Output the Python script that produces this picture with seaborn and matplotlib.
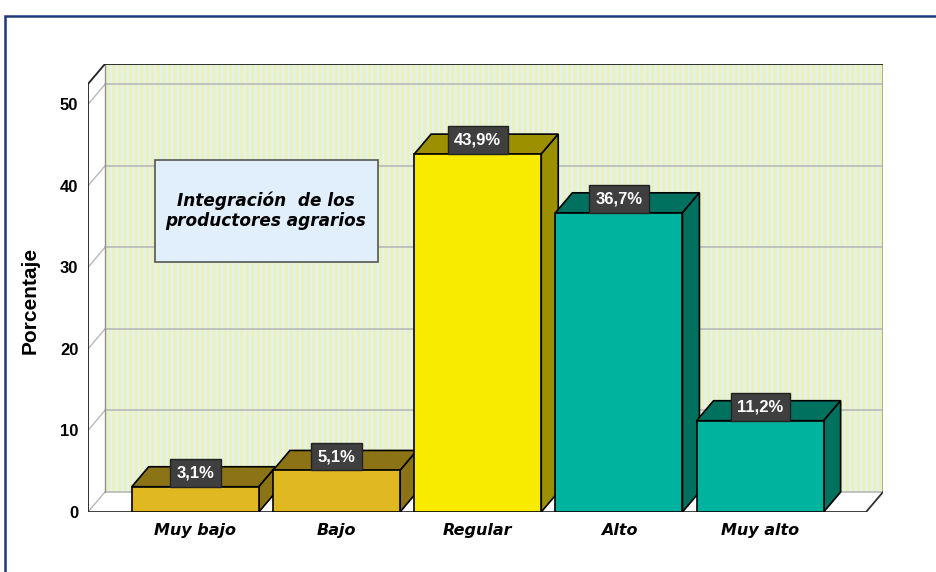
import pandas as pd
import seaborn as sns
from matplotlib import pyplot as plt
from matplotlib.patches import Polygon, Rectangle


categorias = ["Muy bajo", "Bajo", "Regular", "Alto", "Muy alto"]
porcentajes = [3.1, 5.1, 43.9, 36.7, 11.2]
etiquetas = ["3,1%", "5,1%", "43,9%", "36,7%", "11,2%"]
colores_frente = ["#DFB822", "#DFB822", "#F9EB00", "#00B39F", "#00B39F"]
colores_lado = ["#8C7416", "#8C7416", "#9C9000", "#00705F", "#00705F"]
yticks = [0, 10, 20, 30, 40, 50]

df = pd.DataFrame(data={"Nivel": categorias, "Porcentaje": porcentajes})

sns.set_style("white")
plt.rcParams["font.family"] = ["DejaVu Sans"]
plt.rcParams["text.color"] = "black"
plt.rcParams["xtick.color"] = "black"
plt.rcParams["ytick.color"] = "black"
plt.rcParams["axes.labelcolor"] = "black"
plt.rcParams["hatch.linewidth"] = 2.2
narrow = ["Liberation Sans Narrow", "Liberation Sans", "DejaVu Sans"]

fig = plt.figure(figsize=(9.37, 5.72), dpi=100)
ax = fig.add_axes([88/937, 60/572, 795/937, 448/572])

# profundidad del efecto 3D (en unidades de datos)
dx, dy = 0.12, 2.45
x0, x1 = -0.76, 4.75
ytop = 52.5

sns.barplot(data=df, x="Nivel", y="Porcentaje", hue="Nivel", palette=colores_frente,
            saturation=1, width=0.9, edgecolor="black", linewidth=1.2, legend=False,
            ax=ax, zorder=3)

# paredes y suelo
ax.add_patch(Polygon([(x0+dx, dy), (x1+dx, dy), (x1+dx, ytop+dy), (x0+dx, ytop+dy)],
                     facecolor="#E4F1F4", edgecolor="#ECF2B6", hatch="|||", lw=0, zorder=0.5))
ax.add_patch(Polygon([(x0, 0), (x0+dx, dy), (x0+dx, ytop+dy), (x0, ytop)],
                     facecolor="white", lw=0, zorder=0.6))
ax.add_patch(Polygon([(x0, 0), (x1, 0), (x1+dx, dy), (x0+dx, dy)],
                     facecolor="white", lw=0, zorder=0.6))
for v in yticks:
    ax.plot([x0+dx, x1+dx], [v+dy, v+dy], color="#B8B8B8", lw=1.2, zorder=1)
    ax.plot([x0, x0+dx], [v, v+dy], color="#B8B8B8", lw=1.0, zorder=1)
ax.plot([x0+dx, x0+dx], [dy, ytop+dy], color="#909090", lw=1.0, zorder=1)
ax.plot([x1+dx, x1+dx], [dy, ytop+dy], color="#A0A0A0", lw=1.2, zorder=1)
ax.plot([x0, x0, x0+dx, x1+dx], [0, ytop, ytop+dy, ytop+dy], color="#202020", lw=1.3, zorder=1.2)
ax.plot([x0, x1, x1+dx], [0, 0, dy], color="#303030", lw=1.3, zorder=1.2)

# caras superior y lateral de cada barra
for container in ax.containers:
    for bar in container:
        x, w, h = bar.get_x(), bar.get_width(), bar.get_height()
        i = int(round(x + w/2))
        ax.add_patch(Polygon([(x, h), (x+w, h), (x+w+dx, h+dy), (x+dx, h+dy)],
                             facecolor=colores_lado[i], edgecolor="black", lw=1.2, zorder=2.8))
        ax.add_patch(Polygon([(x+w, 0), (x+w+dx, dy), (x+w+dx, h+dy), (x+w, h)],
                             facecolor=colores_lado[i], edgecolor="black", lw=1.2, zorder=2.8))
        ax.annotate(etiquetas[i], xy=(x + w/2, h), xytext=(0, 4.6), textcoords="offset points",
                    ha="center", va="bottom", color="white", fontsize=12, fontweight="bold",
                    family=narrow, zorder=5,
                    bbox=dict(boxstyle="square,pad=0.38", fc="#3F3F3F", ec="#222222", lw=1))

ax.set_xlim(x0, x1 + dx)
ax.set_ylim(0, ytop + dy)
ax.set_yticks(yticks)
ax.set_yticklabels([str(v) for v in yticks], fontsize=12, fontweight="bold", family=narrow)
ax.set_xticks(range(len(categorias)))
ax.set_xticklabels(categorias, fontsize=11.5, fontweight="bold", fontstyle="italic")
ax.tick_params(axis="y", length=0, pad=7)
ax.tick_params(axis="x", length=0, pad=8)
ax.set_xlabel("")
ax.set_ylabel("Porcentaje", fontsize=15, fontweight="bold", family=["Liberation Sans", "DejaVu Sans"],
              va="center")
ax.yaxis.set_label_coords(-0.073, 0.473)
ax.grid(False)
sns.despine(ax=ax, left=True, bottom=True)
ax.set_facecolor("none")

# recuadro de título
fig.add_artist(Rectangle((155/937, 1 - 262/572), 223/937, 102/572, transform=fig.transFigure,
                         facecolor="#E1EEFB", edgecolor="#555555", lw=1.2))
fig.text(266/937, 1 - 211/572, "Integración  de los\nproductores agrarios", ha="center", va="center",
         fontsize=12.2, fontweight="bold", fontstyle="italic", linespacing=1.15)

# marco exterior
fig.add_artist(Rectangle((5/937, -0.1), 1.2, 1 - 16/572 + 0.1, transform=fig.transFigure,
                         fill=False, edgecolor="#1B3B7B", lw=1.8))

plt.savefig("out.png", dpi=100)
plt.close()
